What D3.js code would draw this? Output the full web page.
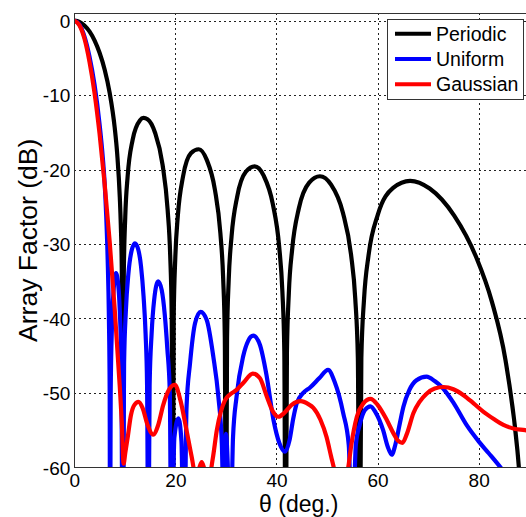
<!DOCTYPE html>
<html>
<head>
<meta charset="utf-8">
<script src="https://cdn.jsdelivr.net/npm/d3@7/dist/d3.min.js"></script>
<style>
  html, body { margin: 0; padding: 0; background: #fff; }
  svg { display: block; font-family: "Liberation Sans", Arial, sans-serif; }
</style>
</head>
<body>
<svg id="chart" width="526" height="517"></svg>
<script>
// ---------------- data ----------------
const xTicks = [0, 20, 40, 60, 80];
const yTicks = [0, -10, -20, -30, -40, -50, -60];
const seriesNames = ["Periodic", "Uniform", "Gaussian"];
const seriesColors = ["#000000", "#0000ff", "#ff0000"];

// Periodic (black)
const periodicTheta = [0,1,2,3,4,5,6,7,8,8.5,9,9.2,9.4,9.59,
  9.79,10.08,10.56,11.54,13.0,13.69,14.48,15.96,17.46,18.46,18.97,19.27,19.47,
  19.67,19.98,20.49,21.51,23.06,24.62,26.21,27.82,28.90,29.45,29.78,30.0,
  30.22,30.55,31.11,32.23,33.94,35.69,37.47,39.29,40.54,41.17,41.55,41.81,
  42.07,42.45,43.11,44.43,46.47,48.59,50.80,53.13,54.75,55.59,56.10,56.44,
  56.79,57.32,58.21,60.07,63.08,66.44,70.31,75.16,79.52,82.60,85.32,87.66,90];
const periodicDB = [0,-0.16,-0.64,-1.44,-2.65,-4.32,-6.56,-9.70,-14.4,-18.0,-23.7,-27.4,-33.7,-80,
  -34.05,-26.38,-20.85,-16.0,-13.37,-13.07,-13.24,-15.02,-19.34,-25.36,-31.48,-39.52,-80,
  -39.68,-31.88,-26.15,-20.93,-17.81,-17.27,-18.70,-22.71,-28.54,-34.58,-42.57,-80,
  -42.66,-34.81,-29.0,-23.62,-20.30,-19.57,-20.82,-24.67,-30.40,-36.39,-44.35,-80,
  -44.40,-36.52,-30.66,-25.20,-21.75,-20.90,-22.03,-25.77,-31.42,-37.37,-45.31,-80,
  -45.34,-37.43,-31.54,-26.01,-22.46,-21.51,-22.55,-26.19,-31.78,-37.70,-45.62,-57.66,-80];

// Uniform (blue)
const uniformTheta = [0,1,2,3,4,5,5.5,6,6.3,6.6,6.85,7.0,7.07,7.2,7.45,7.8,8.25,8.7,9.0,9.3,9.57,
  9.85,10.2,10.7,11.3,12.0,12.6,13.2,13.7,14.1,14.4,14.65,14.9,15.3,15.8,16.6,17.3,17.9,18.4,18.9,19.2,
  19.8,20.6,21.2,21.7,22.2,22.9,23.9,25.0,26.2,27.5,28.5,29.2,29.5,30.0,30.5,30.9,31.4,32.1,33.4,34.4,35.4,
  36.7,38.0,39.4,40.6,41.7,42.6,43.3,44.0,45.3,46.6,48.5,50.2,51.5,53.2,54.3,55.0,55.7,56.5,57.5,58.6,
  59.6,61.1,62.0,62.8,63.5,64.4,65.1,66.3,67.7,69.7,71.3,72.7,75.0,77.6,80.0,82.0,84.2,86.0,90];
const uniformDB = [0,-0.5,-2.1,-4.8,-8.6,-13.9,-17.3,-21.8,-26,-32,-40,-50,-75,-50,-41,-36,-33.9,-35.5,-39,-46,-75,
  -46,-39,-34,-31,-29.9,-30.6,-33,-37,-42,-49,-75,-49,-42,-37.5,-35.0,-36.2,-39.5,-44,-50,-75,
  -56,-53.4,-56.5,-75,-52,-46,-40.6,-39.1,-40.2,-45.1,-50.5,-57,-65,-55.5,-62,-70,-56,-50.5,-45.1,-43,-42.3,
  -43.5,-47.5,-53.6,-56.8,-57.9,-56.3,-53.5,-51.4,-50.0,-49.3,-48.0,-46.9,-48.5,-52.7,-57,-70,-57,-54.2,-52.3,-51.8,
  -52.6,-55.0,-57.2,-58.3,-57,-54.1,-51.9,-49.6,-48.3,-47.8,-48.4,-49.2,-51.3,-54.3,-56.5,-58.1,-59.9,-61.5,-65];

// Gaussian (red)
const gaussianTheta = [0,1,2,3,4,5,6,7,8,9,9.4,9.75,10.1,10.6,11.2,11.9,12.7,13.5,14.5,15.6,16.6,17.6,18.8,19.9,
  21.0,22.2,23.2,24.0,24.6,25.2,25.8,26.6,27.4,28.2,29.0,29.8,30.8,32.1,33.5,35.3,36.7,38.1,39.3,40.4,41.5,
  43.0,44.8,46.3,47.3,48.7,49.9,50.8,51.4,52.5,53.5,54.2,54.8,55.9,57.2,58.6,60.0,61.8,63.2,64.0,64.9,65.8,
  67.1,68.3,69.7,71.3,73.1,75.0,77.0,79.0,80.9,83.0,84.9,87.0,89.2,90];
const gaussianDB = [0,-0.6,-2.4,-5.5,-9.7,-15.2,-21.9,-29.7,-38.8,-49.2,-54,-59.5,-58,-55.8,-53,-51.6,-51.2,-52.0,-54.3,-55.6,-54.3,-51.6,-49.5,-48.9,
  -51.0,-55.0,-58.5,-61,-60.3,-59.3,-60.3,-61.5,-58.8,-55,-52.5,-51,-50.2,-49.6,-48.6,-47.4,-48.0,-50.5,-52.5,-53.2,-52.7,
  -51.6,-51.1,-51.5,-52.0,-53.6,-55.9,-58.5,-60.2,-64,-62.5,-60,-57,-53.2,-51.4,-50.8,-51.6,-53.6,-55.5,-56.4,-56.7,-55.5,
  -52.7,-51.2,-50.1,-49.4,-49.2,-49.5,-50.3,-51.4,-52.5,-53.5,-54.3,-54.8,-55.0,-55.1];

// ---------------- drawing ----------------
const svg = d3.select("#chart");
const W = 526, H = 517;
const x = d3.scaleLinear().domain([0, 90]).range([74.3, 529.2]);
const y = d3.scaleLinear().domain([-60, 1]).range([467.4, 13.2]);
const x0 = x(0), x1 = x(90), yTop = y(1), yBot = y(-60);
const FONT = "'Liberation Sans', Arial, sans-serif";

svg.append("rect").attr("width", W).attr("height", H).attr("fill", "#fff");

// clip for plotted curves
svg.append("defs").append("clipPath").attr("id", "plotclip")
  .append("rect").attr("x", x0).attr("y", yTop).attr("width", x1 - x0).attr("height", yBot - yTop);

// grid
const grid = svg.append("g").attr("stroke", "#222").attr("stroke-width", 1)
  .attr("stroke-dasharray", "2,3").attr("shape-rendering", "crispEdges");
xTicks.filter(t => t !== 0).forEach(t => {
  grid.append("line").attr("x1", Math.round(x(t)) + 0.5).attr("x2", Math.round(x(t)) + 0.5)
    .attr("y1", yTop).attr("y2", yBot);
});
yTicks.filter(t => t !== -60).forEach(t => {
  grid.append("line").attr("y1", Math.round(y(t)) + 0.5).attr("y2", Math.round(y(t)) + 0.5)
    .attr("x1", x0).attr("x2", x1);
});

// curves
const line = d3.line().x(d => x(d[0])).y(d => y(d[1])).curve(d3.curveMonotoneX);
const allSeries = [
  d3.zip(periodicTheta, periodicDB),
  d3.zip(uniformTheta, uniformDB),
  d3.zip(gaussianTheta, gaussianDB)
];
const curves = svg.append("g").attr("clip-path", "url(#plotclip)");
allSeries.forEach((s, i) => {
  curves.append("path").datum(s).attr("d", line)
    .attr("fill", "none").attr("stroke", seriesColors[i])
    .attr("stroke-width", 4.2).attr("stroke-linejoin", "round");
});

// axes frame
const frame = svg.append("g").attr("stroke", "#333").attr("stroke-width", 1).attr("fill", "none")
  .attr("shape-rendering", "crispEdges");
frame.append("rect").attr("x", Math.round(x0) + 0.5).attr("y", Math.round(yTop) + 0.5)
  .attr("width", x1 - x0).attr("height", Math.round(yBot) - Math.round(yTop));

// axes with d3 (labels only), plain hyphen minus like the reference
const fmt = d => String(d);
const xAxis = d3.axisBottom(x).tickValues(xTicks).tickSize(0).tickPadding(0).tickFormat(fmt);
const gx = svg.append("g").attr("transform", `translate(0,${yBot})`).call(xAxis);
gx.select(".domain").remove();
gx.selectAll("text").attr("font-size", 19).attr("fill", "#000")
  .attr("font-family", FONT).attr("dy", "1.02em");

const yAxis = d3.axisLeft(y).tickValues(yTicks).tickSize(0).tickPadding(0).tickFormat(fmt);
const gy = svg.append("g").attr("transform", `translate(${x0 - 4},0)`).call(yAxis);
gy.select(".domain").remove();
gy.selectAll("text").attr("font-size", 19).attr("fill", "#000")
  .attr("font-family", FONT).attr("dy", "0.36em");

// axis titles
svg.append("text").attr("x", (x0 + x1) / 2 - 3).attr("y", 512)
  .attr("text-anchor", "middle").attr("font-size", 23).attr("fill", "#000")
  .attr("font-family", FONT).text("θ (deg.)");
svg.append("text").attr("transform", `translate(37,${(yTop + yBot) / 2}) rotate(-90)`)
  .attr("text-anchor", "middle").attr("font-size", 26.5).attr("fill", "#000")
  .attr("font-family", FONT).text("Array Factor (dB)");

// legend
const lg = svg.append("g");
lg.append("rect").attr("x", 387.5).attr("y", 19.5).attr("width", 136).attr("height", 80)
  .attr("fill", "#fff").attr("stroke", "#333").attr("stroke-width", 1);
const rowsY = [33.7, 59, 84.3];
seriesNames.forEach((n, i) => {
  lg.append("line").attr("x1", 395).attr("x2", 431).attr("y1", rowsY[i]).attr("y2", rowsY[i])
    .attr("stroke", seriesColors[i]).attr("stroke-width", 4);
  lg.append("text").attr("x", 436).attr("y", rowsY[i]).attr("dy", "0.36em")
    .attr("font-size", 19.5).attr("fill", "#000").attr("font-family", FONT).text(n);
});
</script>
</body>
</html>
